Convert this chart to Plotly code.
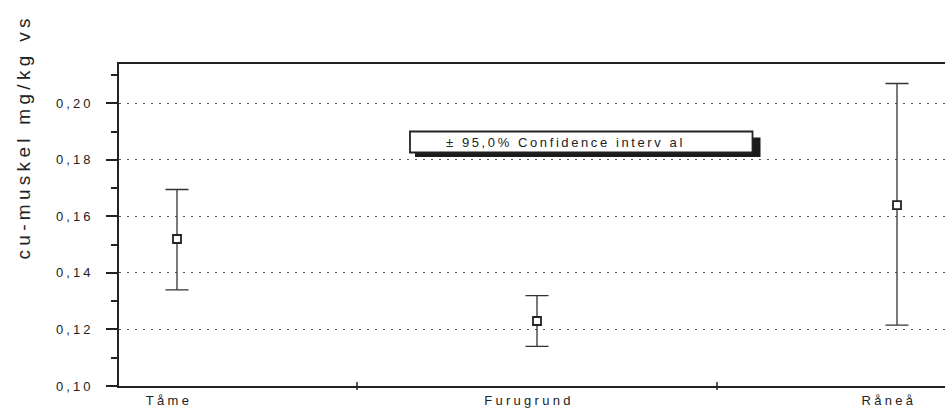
import plotly.graph_objects as go

# ---- data ----
categories = ["Tåme", "Furugrund", "Råneå"]
means = [0.152, 0.123, 0.164]
upper = [0.1695, 0.132, 0.207]
lower = [0.134, 0.114, 0.1215]
y_tick_values = [0.10, 0.12, 0.14, 0.16, 0.18, 0.20]
y_tick_labels = ["0,10", "0,12", "0,14", "0,16", "0,18", "0,20"]
y_title = "cu-muskel mg/kg vs"
legend_text = "± 95,0% Confidence interv al"

# ---- layout geometry (pixels) ----
W, H = 945, 408
L, T, R, B = 119, 64, 0, 22
PW = W - L - R
PH = H - T - B
INK = "#222"
FONT = "Liberation Sans, Arial, Helvetica, sans-serif"


def px_x(px):
    return (px - L) / PW


def px_y(py):
    return (H - B - py) / PH


def spaced(s, ls):
    return f'<span style="letter-spacing:{ls}px">{s}</span>'


xpos = list(range(len(categories)))
err_plus = [u - m for u, m in zip(upper, means)]
err_minus = [m - l for m, l in zip(means, lower)]

fig = go.Figure()
fig.add_trace(go.Scatter(
    x=xpos, y=means, mode="markers",
    marker=dict(symbol="square", size=8, color="white",
                line=dict(color=INK, width=1.8)),
    error_y=dict(type="data", symmetric=False, array=err_plus,
                 arrayminus=err_minus, color="#333", thickness=1.3, width=11.5),
    showlegend=False, cliponaxis=False, hoverinfo="skip",
))

# category separator ticks on the x axis
shapes = []
for i in range(len(categories) - 1):
    xb = i + 0.5
    shapes.append(dict(type="line", xref="x", yref="paper", x0=xb, x1=xb,
                       ysizemode="pixel", yanchor=0, y0=-4, y1=4,
                       line=dict(color=INK, width=1.5)))

# legend box with shadow
box_l, box_r, box_t, box_b = 410, 752.5, 131.5, 152.5
shapes.append(dict(type="rect", xref="paper", yref="paper",
                   x0=px_x(box_l + 5), x1=px_x(box_r + 8),
                   y0=px_y(box_b + 4.5), y1=px_y(box_t + 6),
                   fillcolor="#1a1a1a", line=dict(width=0), layer="above"))
shapes.append(dict(type="rect", xref="paper", yref="paper",
                   x0=px_x(box_l), x1=px_x(box_r),
                   y0=px_y(box_b), y1=px_y(box_t),
                   fillcolor="white", line=dict(color=INK, width=1.8), layer="above"))

annotations = [
    dict(text=spaced(legend_text, 2.6), xref="paper", yref="paper",
         x=px_x(444), y=px_y(142.5), xanchor="left", yanchor="middle",
         showarrow=False, font=dict(family=FONT, size=13, color=INK)),
    dict(text=spaced(y_title, 4.3), xref="paper", yref="paper",
         x=px_x(23), y=px_y(137.5), xanchor="center", yanchor="middle",
         textangle=-90, showarrow=False,
         font=dict(family=FONT, size=19, color=INK)),
]

x_left = (L - 177) / 360.0
x_right = (W - 177) / 360.0

fig.update_layout(
    width=W, height=H,
    margin=dict(l=L, r=R, t=T, b=B, pad=0),
    paper_bgcolor="white", plot_bgcolor="white",
    font=dict(family=FONT, size=13, color=INK),
    shapes=shapes, annotations=annotations,
    xaxis=dict(
        range=[x_left, x_right], tickmode="array", tickvals=xpos,
        ticktext=[spaced(c, 3.3) for c in categories],
        ticks="", showgrid=False, zeroline=False,
        showline=True, linewidth=2, linecolor=INK, mirror=True,
        tickfont=dict(family=FONT, size=13, color=INK),
        ticklabelshift=-8, ticklabelstandoff=1,
    ),
    yaxis=dict(
        range=[0.10, 0.2139], tickmode="array", tickvals=y_tick_values,
        ticktext=[spaced(t, 3) for t in y_tick_labels],
        ticks="outside", ticklen=11, tickwidth=2, tickcolor=INK,
        showline=True, linewidth=2, linecolor=INK, mirror=False,
        showgrid=True, gridcolor="#555", gridwidth=1.4, griddash="2px,6px",
        zeroline=False,
        tickfont=dict(family=FONT, size=13, color=INK),
        ticklabelstandoff=10,
        minor=dict(tickmode="linear", tick0=0.10, dtick=0.01, ticks="outside",
                   ticklen=6, tickwidth=1.8, tickcolor=INK, showgrid=False),
    ),
)

fig.write_html("out.html")
